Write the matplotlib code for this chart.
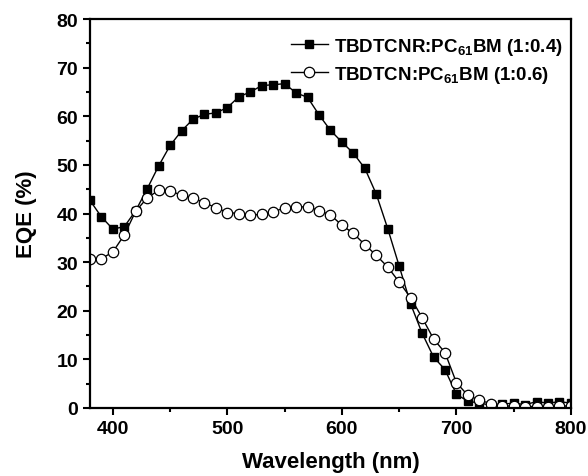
import matplotlib
matplotlib.use('Agg')
import matplotlib.pyplot as plt
from matplotlib.ticker import MultipleLocator

wavelength = list(range(380, 801, 10))

eqe_tbdtcnr = [42.7, 39.3, 36.8, 37.3, 40.6, 45.1, 49.8, 54.0, 57.0, 59.4,
               60.4, 60.7, 61.8, 64.0, 65.0, 66.3, 66.5, 66.7, 64.8, 63.9,
               60.3, 57.1, 54.7, 52.4, 49.3, 44.0, 36.9, 29.2, 21.4, 15.4,
               10.5, 7.9, 2.8, 1.4, 1.0, 0.6, 0.8, 1.0, 0.7, 1.3,
               1.0, 1.3, 1.0]

eqe_tbdtcn = [30.6, 30.7, 32.1, 35.6, 40.5, 43.2, 44.8, 44.6, 43.8, 43.2,
              42.2, 41.2, 40.2, 40.0, 39.7, 39.8, 40.3, 41.2, 41.3, 41.4,
              40.6, 39.7, 37.6, 35.9, 33.6, 31.4, 29.0, 25.9, 22.7, 18.6,
              14.2, 11.4, 5.2, 2.6, 1.6, 0.9, 0.4, 0.4, 0.3, 0.3,
              0.3, 0.4, 0.4]

labels = [r'TBDTCNR:PC$_{61}$BM (1:0.4)', r'TBDTCN:PC$_{61}$BM (1:0.6)']

plt.rcParams['font.family'] = 'Liberation Sans'
plt.rcParams['font.weight'] = 'bold'
plt.rcParams['mathtext.fontset'] = 'custom'
plt.rcParams['mathtext.rm'] = 'Liberation Sans:bold'
plt.rcParams['mathtext.it'] = 'Liberation Sans:bold'
plt.rcParams['mathtext.bf'] = 'Liberation Sans:bold'

fig = plt.figure(figsize=(5.88, 4.77), dpi=100)
ax = fig.add_axes([0.153, 0.1426, 0.818, 0.8154])

ax.plot(wavelength, eqe_tbdtcnr, '-s', color='black', lw=1,
        ms=6, mfc='black', mec='black', label=labels[0])
ax.plot(wavelength, eqe_tbdtcn, '-o', color='black', lw=1,
        ms=7.5, mfc='white', mec='black', mew=0.9, label=labels[1])

ax.set_xlim(380, 800)
ax.set_ylim(0, 80)
ax.xaxis.set_major_locator(MultipleLocator(100))
ax.xaxis.set_minor_locator(MultipleLocator(50))
ax.yaxis.set_major_locator(MultipleLocator(10))
ax.yaxis.set_minor_locator(MultipleLocator(5))
ax.tick_params(which='both', direction='out', top=False, right=False,
               width=1.5, labelsize=14)
ax.tick_params(which='major', length=5)
ax.tick_params(which='minor', length=3)
for s in ax.spines.values():
    s.set_linewidth(1.6)

ax.set_xlabel('Wavelength (nm)', fontsize=16, fontweight='bold', labelpad=10)
ax.set_ylabel('EQE (%)', fontsize=16, fontweight='bold', labelpad=14)

ax.legend(loc='upper right', frameon=False, fontsize=13.5, handlelength=2.0,
          handletextpad=0.3, borderaxespad=0.3, labelspacing=0.35,
          bbox_to_anchor=(1.01, 0.99))

fig.savefig('out.png', dpi=100)
